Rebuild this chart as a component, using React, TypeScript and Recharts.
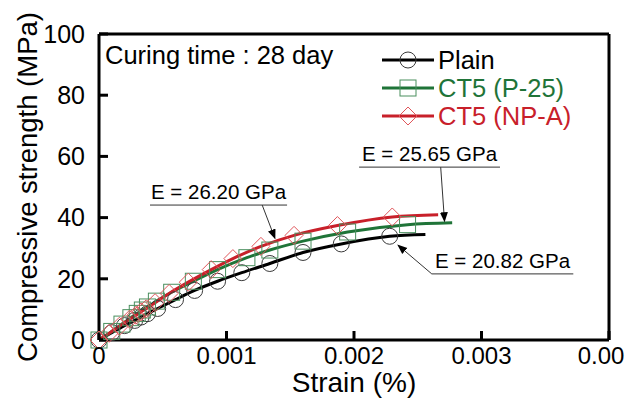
import { LineChart, Line, XAxis, YAxis, ReferenceLine, Legend, Customized } from 'recharts';

const FONT = '"Liberation Sans", Arial, sans-serif';

// tick values
const strainTicks = [0, 0.001, 0.002, 0.003, 0.004];
const stressTicks = [0, 20, 40, 60, 80, 100];

// Plain
const plainStrain = [0, 0.0001, 0.0002, 0.00028, 0.00033, 0.00038, 0.00046, 0.0006, 0.00075, 0.00093, 0.00112, 0.00134, 0.0016, 0.0019, 0.00228, 0.00256];
const plainStress = [0, 2.4, 4.7, 6.4, 7.5, 8.6, 10.3, 13.2, 16.2, 19.2, 22.0, 25.0, 28.6, 31.4, 33.9, 34.5];

// CT5 (P-25)
const p25Strain = [0, 0.0001, 0.00018, 0.00025, 0.0003, 0.00034, 0.00038, 0.00045, 0.00057, 0.00074, 0.00093, 0.00116, 0.00134, 0.0016, 0.00195, 0.00242, 0.00277];
const p25Stress = [0, 2.8, 5.2, 7.3, 8.7, 9.8, 10.8, 12.7, 15.6, 19.2, 23.0, 26.9, 29.4, 32.3, 35.3, 37.7, 38.3];

// CT5 (NP-A)
const npaStrain = [0, 0.00008, 0.00016, 0.00024, 0.00029, 0.00033, 0.00037, 0.00044, 0.00055, 0.0007, 0.00088, 0.00105, 0.00127, 0.00153, 0.00187, 0.0023, 0.00266];
const npaStress = [0, 2.2, 4.5, 6.8, 8.1, 9.2, 10.2, 12.2, 15.2, 18.9, 23.0, 26.6, 30.6, 34.2, 37.4, 40.2, 40.9];

const toPoints = (xs: number[], ys: number[]) => xs.map((strain, i) => ({ strain, stress: ys[i] }));

const plainData = toPoints(plainStrain, plainStress);
const p25Data = toPoints(p25Strain, p25Stress);
const npaData = toPoints(npaStrain, npaStress);

const series = [
  { name: 'Plain', data: plainData, kind: 'circle', line: '#000000', mark: '#3a3a3a', text: '#000000' },
  { name: 'CT5 (P-25)', data: p25Data, kind: 'square', line: '#1f7438', mark: '#4a8f5e', text: '#1f7438' },
  { name: 'CT5 (NP-A)', data: npaData, kind: 'diamond', line: '#c8202a', mark: '#e0555a', text: '#c8202a' },
];

function marker(kind: string, cx: number, cy: number, color: string, key?: string) {
  if (kind === 'circle') return <circle key={key} cx={cx} cy={cy} r={8} fill="none" stroke={color} strokeWidth={1} />;
  if (kind === 'square') return <rect key={key} x={cx - 8} y={cy - 8} width={16} height={16} fill="none" stroke={color} strokeWidth={1} />;
  return (
    <polygon key={key} points={`${cx},${cy - 9} ${cx + 9},${cy} ${cx},${cy + 9} ${cx - 9},${cy}`} fill="none" stroke={color} strokeWidth={1} />
  );
}

// last point is the curve end, no marker there
const makeDot = (kind: string, color: string, count: number) => (props: any) => {
  const { cx, cy, index } = props;
  const key = `${kind}-${index}`;
  if (index === count - 1 || cx == null || cy == null) return <g key={key} />;
  return marker(kind, cx, cy, color, key);
};

const XTick = (props: any) => {
  const { x, y, payload } = props;
  const v = payload.value;
  const isLast = v === 0.004;
  const label = v === 0 ? '0' : isLast ? '0.00' : v.toFixed(3);
  return (
    <text x={isLast ? x - 8 : x} y={y} dy="0.71em" textAnchor="middle" fontSize={24} fontFamily={FONT} fill="#000">
      {label}
    </text>
  );
};

const YTick = (props: any) => {
  const { x, y, payload } = props;
  return (
    <text x={x} y={y} dy="0.355em" textAnchor="end" fontSize={25} fontFamily={FONT} fill="#000">
      {payload.value}
    </text>
  );
};

const renderLegend = () => (
  <div style={{ fontFamily: FONT, fontSize: 25.5, lineHeight: '28px' }}>
    {series.map((s) => (
      <div key={s.name} style={{ display: 'flex', alignItems: 'center', color: s.text, whiteSpace: 'nowrap' }}>
        <svg width={52} height={28} style={{ display: 'block' }}>
          <line x1={0} y1={14} x2={52} y2={14} stroke={s.line} strokeWidth={3} />
          {marker(s.kind, 26, 14, s.mark)}
        </svg>
        <span style={{ marginLeft: 4 }}>{s.name}</span>
      </div>
    ))}
  </div>
);

const CuringText = () => (
  <text x={105} y={64} fontSize={25.5} fontFamily={FONT} fill="#000">
    Curing time : 28 day
  </text>
);

const ELabel = (props: any) => {
  const { viewBox, value } = props;
  const cx = viewBox.x + viewBox.width / 2;
  return (
    <text x={cx} y={viewBox.y - 6} textAnchor="middle" fontSize={20.5} fontFamily={FONT} fill="#000">
      {value}
    </text>
  );
};

export default function App() {
  return (
    <div style={{ position: 'absolute', left: 0, top: 0, width: 639, height: 399, background: '#fff' }}>
      <LineChart width={639} height={399} margin={{ top: 34, right: 30, left: 0, bottom: 0 }}>
        <defs>
          <marker id="arrowHead" viewBox="0 0 10 10" refX="9" refY="5" markerWidth="10" markerHeight="10" markerUnits="userSpaceOnUse" orient="auto">
            <path d="M0,1 L10,5 L0,9 z" fill="#000" />
          </marker>
        </defs>
        <XAxis
          type="number"
          dataKey="strain"
          domain={[0, 0.004]}
          ticks={strainTicks}
          interval={0}
          height={59}
          tickSize={-9}
          tickMargin={16}
          axisLine={{ stroke: '#000', strokeWidth: 3 }}
          tickLine={{ stroke: '#000', strokeWidth: 3 }}
          tick={<XTick />}
          label={{ value: 'Strain (%)', position: 'insideBottom', offset: 7, fontSize: 28, fontFamily: FONT, fill: '#000' }}
        />
        <YAxis
          type="number"
          domain={[0, 100]}
          ticks={stressTicks}
          interval={0}
          width={99}
          tickSize={-9}
          tickMargin={23}
          axisLine={{ stroke: '#000', strokeWidth: 3 }}
          tickLine={{ stroke: '#000', strokeWidth: 3 }}
          tick={<YTick />}
          label={{ value: 'Compressive strength (MPa)', angle: -90, position: 'center', dx: -22, fontSize: 27.5, fontFamily: FONT, fill: '#000' }}
        />
        {/* frame */}
        <ReferenceLine y={100} stroke="#000" strokeWidth={3} />
        <ReferenceLine x={0.004} stroke="#000" strokeWidth={3} />

        {series.map((s) => (
          <Line
            key={s.name}
            name={s.name}
            data={s.data}
            dataKey="stress"
            type="monotone"
            stroke={s.line}
            strokeWidth={3}
            dot={makeDot(s.kind, s.mark, s.data.length)}
            activeDot={false}
            isAnimationActive={false}
          />
        ))}

        {/* modulus annotations */}
        <ReferenceLine segment={[{ x: 0.0004, y: 44.1 }, { x: 0.001475, y: 44.1 }]} stroke="#333" strokeWidth={1} label={<ELabel value="E = 26.20 GPa" />} />
        <ReferenceLine segment={[{ x: 0.00128, y: 44.1 }, { x: 0.00138, y: 33.2 }]} stroke="#333" strokeWidth={1} markerEnd="url(#arrowHead)" />
        <ReferenceLine segment={[{ x: 0.00204, y: 56.5 }, { x: 0.003145, y: 56.5 }]} stroke="#333" strokeWidth={1} label={<ELabel value="E = 25.65 GPa" />} />
        <ReferenceLine segment={[{ x: 0.00268, y: 56.5 }, { x: 0.00271, y: 38.8 }]} stroke="#333" strokeWidth={1} markerEnd="url(#arrowHead)" />
        <ReferenceLine segment={[{ x: 0.00261, y: 21.6 }, { x: 0.00372, y: 21.6 }]} stroke="#333" strokeWidth={1} label={<ELabel value="E = 20.82 GPa" />} />
        <ReferenceLine segment={[{ x: 0.00261, y: 21.6 }, { x: 0.002345, y: 31.0 }]} stroke="#333" strokeWidth={1} markerEnd="url(#arrowHead)" />

        <Customized component={CuringText} />
        <Legend
          content={renderLegend}
          layout="vertical"
          verticalAlign="middle"
          align="center"
          wrapperStyle={{ position: 'absolute', left: 382, top: 46, width: 'auto' }}
        />
      </LineChart>
    </div>
  );
}
